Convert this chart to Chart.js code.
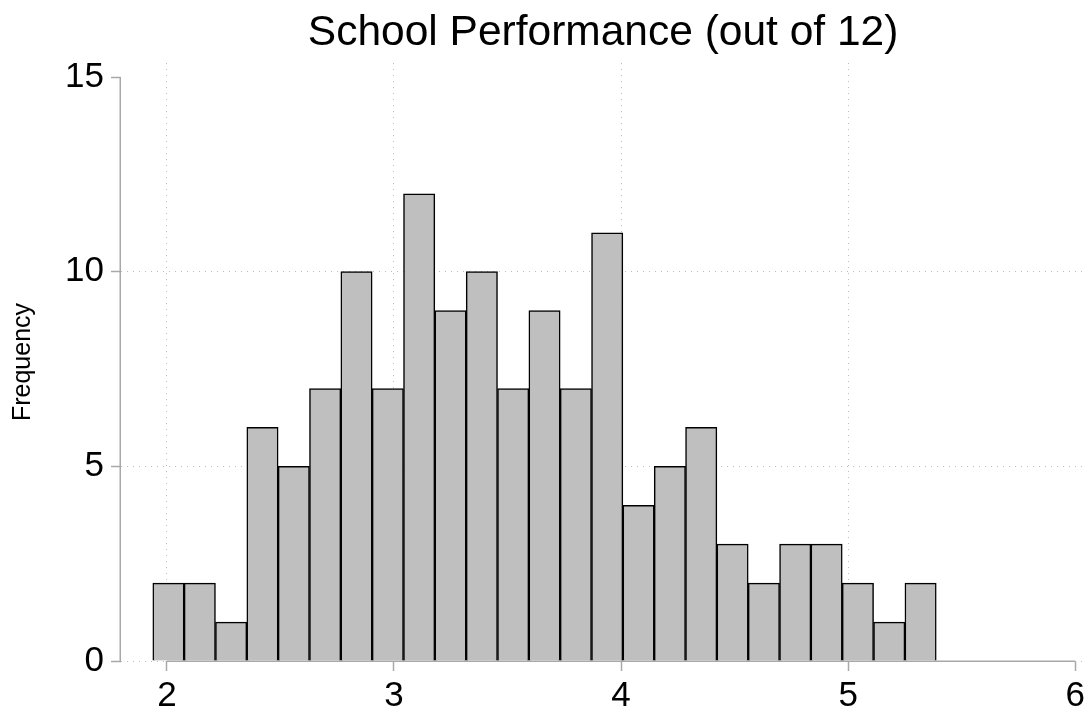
<!DOCTYPE html>
<html>
<head>
<meta charset="utf-8">
<script src="https://cdn.jsdelivr.net/npm/chart.js@4/dist/chart.umd.min.js"></script>
<style>
  html, body { margin: 0; padding: 0; background: #fff; }
  #wrap { width: 1089px; height: 713px; }
</style>
</head>
<body>
<div id="wrap"><canvas id="c" width="1089" height="713"></canvas></div>
<script>
const chartTitle = 'School Performance (out of 12)';
const yAxisTitle = 'Frequency';
const binCenters = [2.007, 2.145, 2.283, 2.421, 2.559, 2.697, 2.835, 2.973, 3.111, 3.249,
                    3.387, 3.525, 3.663, 3.801, 3.939, 4.077, 4.215, 4.353, 4.491, 4.629,
                    4.767, 4.905, 5.043, 5.181, 5.319];
const frequencies = [2, 2, 1, 6, 5, 7, 10, 7, 12, 9,
                     10, 7, 9, 7, 11, 4, 5, 6, 3, 2,
                     3, 3, 2, 1, 2];
const xTicks = [2, 3, 4, 5, 6];
const yTicks = [0, 5, 10, 15];

const FONT = "'Liberation Sans', Arial, Helvetica, sans-serif";
const AXIS_COLOR = '#a8a8a8';
const GRID_COLOR = '#bdbdbd';

const axisLines = {
  id: 'axisLines',
  beforeDatasetsDraw(chart) {
    const {ctx, chartArea, scales: {x, y}} = chart;
    ctx.save();
    ctx.strokeStyle = AXIS_COLOR;
    ctx.lineWidth = 1.5;
    ctx.beginPath();
    const lx = chartArea.left - 0.75;
    ctx.moveTo(lx, y.getPixelForValue(yTicks[0]) + 0.75);
    ctx.lineTo(lx, y.getPixelForValue(yTicks[yTicks.length - 1]));
    const by = chartArea.bottom + 0.25;
    ctx.moveTo(x.getPixelForValue(xTicks[0]), by);
    ctx.lineTo(x.getPixelForValue(xTicks[xTicks.length - 1]), by);
    ctx.stroke();
    ctx.restore();
  }
};

new Chart(document.getElementById('c'), {
  type: 'bar',
  data: {
    datasets: [{
      label: yAxisTitle,
      data: binCenters.map((c, i) => ({x: c, y: frequencies[i]})),
      backgroundColor: '#bfbfbf',
      borderColor: '#000000',
      borderWidth: 1.5,
      barPercentage: 1,
      categoryPercentage: 1
    }]
  },
  plugins: [axisLines],
  options: {
    responsive: false,
    animation: false,
    devicePixelRatio: 1,
    layout: { padding: { left: 0, right: 2, top: 0, bottom: 0 } },
    plugins: {
      legend: { display: false },
      tooltip: { enabled: false },
      title: {
        display: true,
        text: chartTitle,
        fullSize: false,
        color: '#000',
        font: { family: FONT, size: 42.5, weight: 'normal' },
        padding: { top: 7.5, bottom: 4.5 }
      }
    },
    scales: {
      x: {
        type: 'linear',
        min: 1.798,
        max: 6.044,
        offset: false,
        afterBuildTicks: s => { s.ticks = xTicks.map(v => ({value: v})); },
        afterFit: s => { s.height = 52; },
        border: { display: false, dash: [1, 5] },
        grid: {
          offset: false,
          color: c => (c.tick && c.tick.value === 6) ? 'rgba(0,0,0,0)' : GRID_COLOR,
          lineWidth: 1,
          drawTicks: true,
          tickLength: 10,
          tickColor: AXIS_COLOR,
          tickWidth: 1.5,
          tickBorderDash: []
        },
        ticks: {
          color: '#000',
          font: { family: FONT, size: 35 },
          padding: 4,
          maxRotation: 0,
          autoSkip: false
        }
      },
      y: {
        min: 0,
        max: 15.36,
        afterBuildTicks: s => { s.ticks = yTicks.map(v => ({value: v})); },
        afterFit: s => { s.width = 121; },
        border: { display: false, dash: [1, 5] },
        grid: {
          color: c => (c.tick && c.tick.value === 15) ? 'rgba(0,0,0,0)' : GRID_COLOR,
          lineWidth: 1,
          drawTicks: true,
          tickLength: 10,
          tickColor: AXIS_COLOR,
          tickWidth: 1.5,
          tickBorderDash: []
        },
        ticks: {
          color: '#000',
          font: { family: FONT, size: 35 },
          padding: 7,
          autoSkip: false
        },
        title: {
          display: true,
          text: yAxisTitle,
          color: '#000',
          font: { family: FONT, size: 25 },
          padding: { top: 8, bottom: 0 }
        }
      }
    }
  }
});
</script>
</body>
</html>
